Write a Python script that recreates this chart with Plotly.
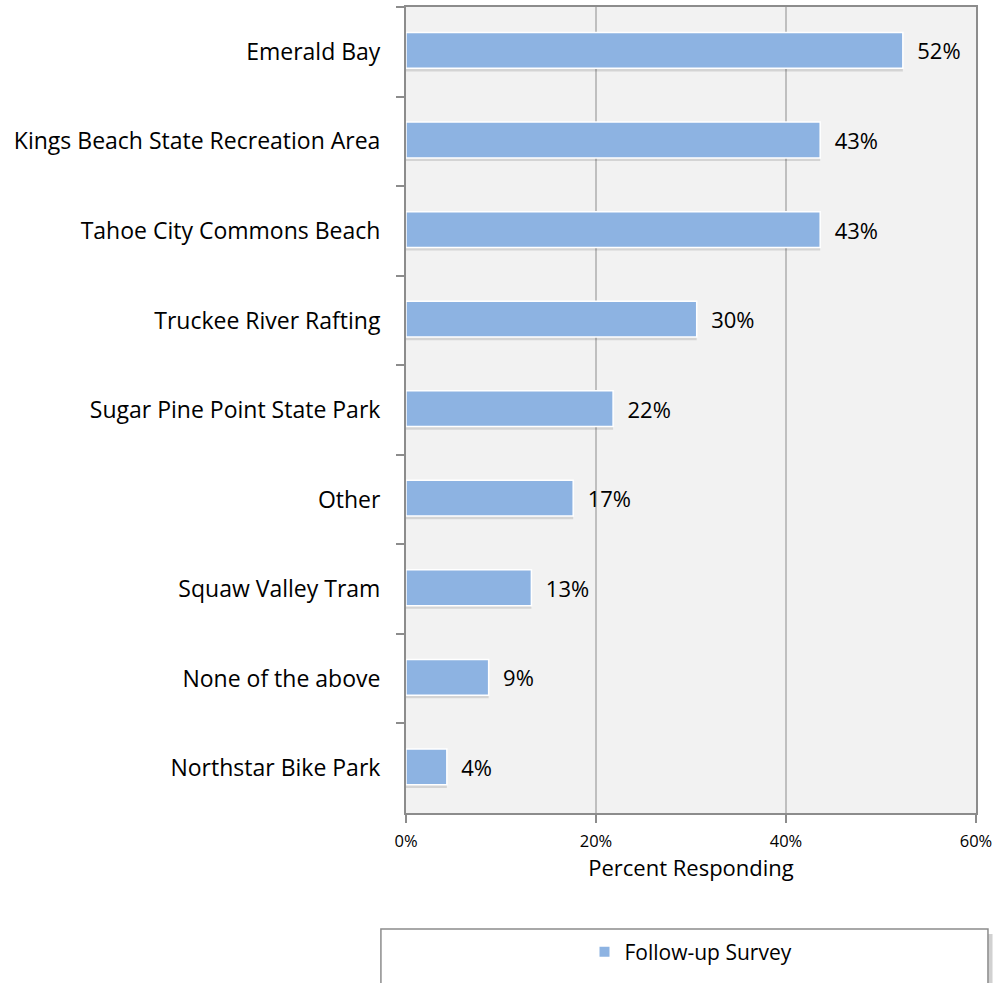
import plotly.graph_objects as go

categories = ["Emerald Bay", "Kings Beach State Recreation Area", "Tahoe City Commons Beach",
              "Truckee River Rafting", "Sugar Pine Point State Park", "Other",
              "Squaw Valley Tram", "None of the above", "Northstar Bike Park"]
values = [52.3, 43.6, 43.6, 30.6, 21.8, 17.6, 13.2, 8.7, 4.3]
labels = ["52%", "43%", "43%", "30%", "22%", "17%", "13%", "9%", "4%"]
series_name = "Follow-up Survey"
x_ticks = [0, 20, 40, 60]
x_tick_labels = ["0%", "20%", "40%", "60%"]

FONT = "Open Sans, Liberation Sans, sans-serif"
BAR = "#8db3e2"

fig = go.Figure()
# soft shadow under bars
fig.add_trace(go.Bar(
    y=categories, x=values, orientation="h", width=0.40, offset=-0.18,
    marker=dict(color="rgba(0,0,0,0.12)", line=dict(width=0)),
    showlegend=False, hoverinfo="skip"))
fig.add_trace(go.Bar(
    y=categories, x=values, orientation="h", width=0.40, offset=-0.215,
    name=series_name,
    marker=dict(color=BAR, line=dict(color="white", width=1.5)),
    text=labels, texttemplate="\u00a0\u00a0%{text}", textposition="outside", cliponaxis=False,
    textfont=dict(size=22, color="black", family=FONT)))

fig.update_layout(
    width=1000, height=983,
    barmode="overlay",
    paper_bgcolor="white", plot_bgcolor="#f2f2f2",
    margin=dict(l=406, r=24, t=5, b=170),
    font=dict(family=FONT, color="black"),
    showlegend=True,
    legend=dict(orientation="h", x=0.5, xanchor="center", y=-0.147, yanchor="top",
                font=dict(size=21, family=FONT), bgcolor="rgba(0,0,0,0)",
                itemsizing="constant", itemwidth=30),
    xaxis=dict(range=[0, 60], tickvals=x_ticks, ticktext=x_tick_labels,
               showgrid=True, gridcolor="#bfbfbf", gridwidth=2,
               showline=True, linecolor="#8c8c8c", linewidth=2, mirror=True,
               ticks="outside", ticklen=8, tickcolor="#8c8c8c", tickwidth=2,
               tickfont=dict(size=16.5, family=FONT), ticklabelstandoff=4,
               title=dict(text="Percent Responding", font=dict(size=22, family=FONT), standoff=8),
               zeroline=False, fixedrange=True),
    yaxis=dict(autorange="reversed", type="category",
               showline=True, linecolor="#8c8c8c", linewidth=2, mirror=True,
               ticks="outside", ticklen=8, tickcolor="#8c8c8c", tickwidth=2,
               tickson="boundaries", showgrid=False,
               tickfont=dict(size=23, family=FONT), ticklabelstandoff=19),
    shapes=[
        dict(type="rect", xref="paper", yref="paper", x0=-0.035, x1=1.029, y0=-0.30, y1=-0.150,
             line=dict(width=0), fillcolor="rgba(0,0,0,0.18)", layer="below"),
        dict(type="rect", xref="paper", yref="paper", x0=-0.044, x1=1.021, y0=-0.30, y1=-0.144,
             line=dict(color="#8c8c8c", width=1.5), fillcolor="white", layer="below"),
    ],
)
fig.write_html("out.html", config={"displayModeBar": False},
               post_script="document.body.style.margin='0';")
